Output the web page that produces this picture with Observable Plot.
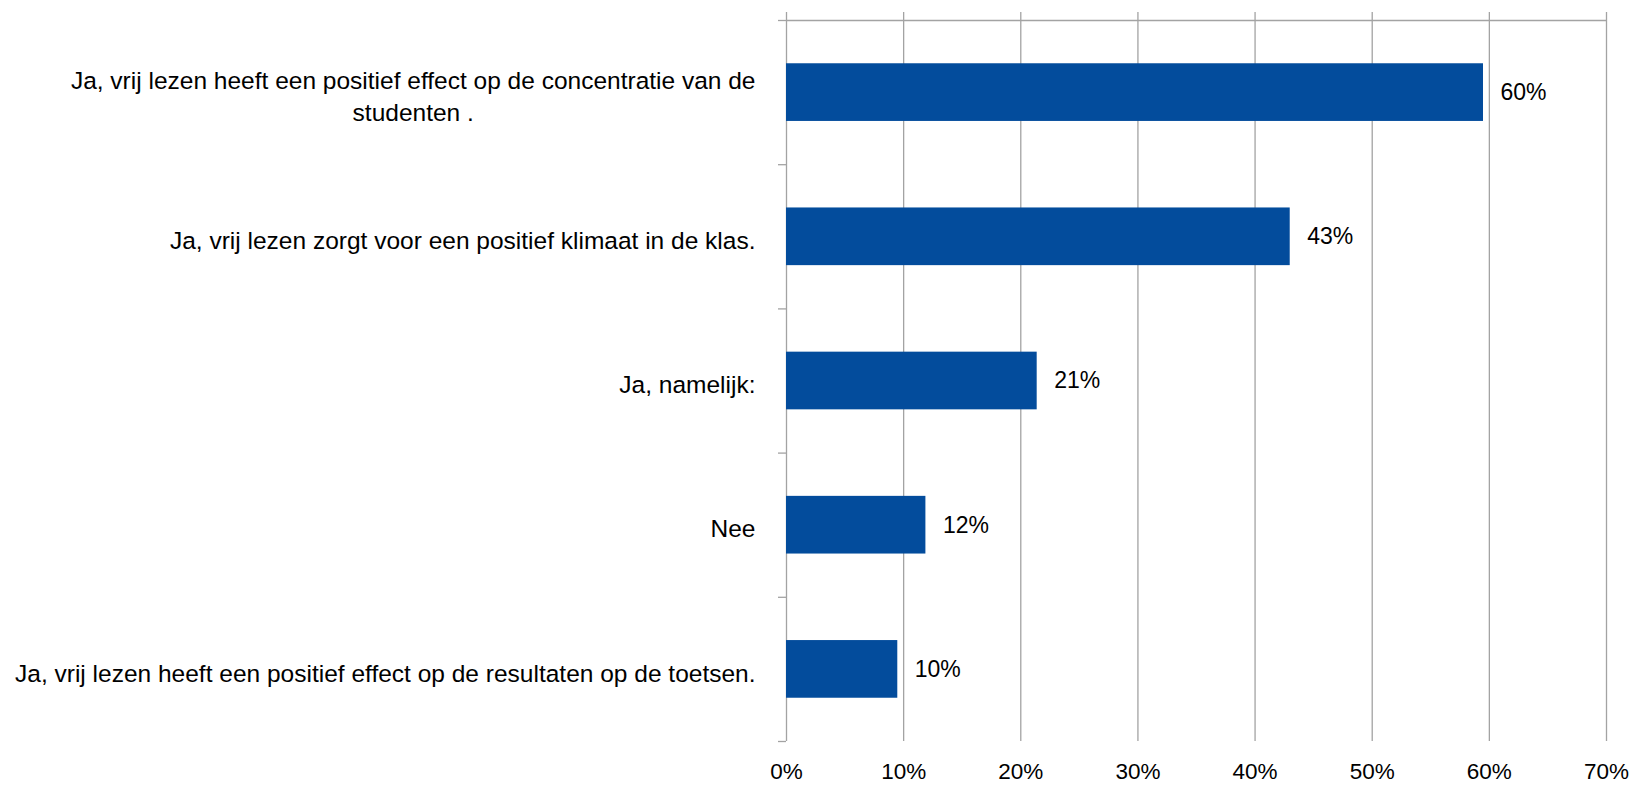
<!DOCTYPE html>
<html>
<head>
<meta charset="utf-8">
<script src="https://cdn.jsdelivr.net/npm/d3@7"></script>
<script src="https://cdn.jsdelivr.net/npm/@observablehq/plot@0.6"></script>
<style>
  html, body { margin: 0; padding: 0; background: #fff; }
  #chart svg { display: block; }
</style>
</head>
<body>
<div id="chart"></div>
<script>
// Categories (top to bottom)
const categories = [
  "Ja, vrij lezen heeft een positief effect op de concentratie van de\nstudenten .",
  "Ja, vrij lezen zorgt voor een positief klimaat in de klas.",
  "Ja, namelijk:",
  "Nee",
  "Ja, vrij lezen heeft een positief effect op de resultaten op de toetsen."
];
// Percentages (bar lengths)
const values = [59.5, 43.0, 21.4, 11.9, 9.5];
// Data labels as printed
const valueLabels = ["60%", "43%", "21%", "12%", "10%"];
// Value axis ticks
const xTicks = [0, 10, 20, 30, 40, 50, 60, 70];
// Category boundaries (band edges)
const bandEdges = [0, 1, 2, 3, 4, 5];

const gridColor = "#a3a3a3";
const barColor = "#034c9c";

const chart = Plot.plot({
  width: 1632,
  height: 785,
  marginLeft: 786,
  marginRight: 26,
  marginTop: 20,
  marginBottom: 44,
  style: {fontFamily: "'Liberation Sans', Arial, sans-serif", color: "#000", background: "#fff"},
  x: {domain: [0, 70], axis: null},
  y: {domain: [0, categories.length], reverse: true, axis: null},
  marks: [
    // vertical gridlines, extending above the top line as outside ticks
    Plot.ruleX(xTicks, {stroke: gridColor, strokeWidth: 1.3, insetTop: -8}),
    // top value-axis line
    Plot.ruleY([0], {x1: 0, x2: 70, stroke: gridColor, strokeWidth: 1.3}),
    // category boundary tick marks on the left
    Plot.axisY(bandEdges, {anchor: "left", ticks: bandEdges, tickSize: 8, tickFormat: () => "", stroke: gridColor, strokeWidth: 1.3}),
    // bars
    Plot.rectX(values, {
      x1: 0, x2: d => d,
      y1: (d, i) => i + 0.3, y2: (d, i) => i + 0.7,
      fill: barColor
    }),
    // data labels
    Plot.text(values, {
      x: d => d, y: (d, i) => i + 0.5,
      text: (d, i) => valueLabels[i],
      dx: 17, textAnchor: "start", fontSize: 23, fill: "#000"
    }),
    // category labels
    Plot.text(categories, {
      frameAnchor: "left", y: (d, i) => i + 0.5,
      text: d => d, dx: -31, dy: 2, textAnchor: "end",
      lineHeight: 1.3, fontSize: 24.5, fill: "#000",
      className: "catlabels"
    }),
    // bottom tick labels
    Plot.axisX({anchor: "bottom", ticks: xTicks, tickSize: 0, tickPadding: 22,
      tickFormat: d => d + "%", fontSize: 22.5, fill: "#000"})
  ]
});

document.getElementById("chart").appendChild(chart);

// Wrapped category labels are centred line by line (as in the source chart)
chart.querySelectorAll("text").forEach(t => {
  const spans = t.querySelectorAll("tspan");
  if (spans.length > 1) {
    let maxW = 0;
    spans.forEach(s => { maxW = Math.max(maxW, s.getComputedTextLength()); });
    t.setAttribute("text-anchor", "middle");
    spans.forEach(s => s.setAttribute("x", -maxW / 2));
  }
});
</script>
</body>
</html>
